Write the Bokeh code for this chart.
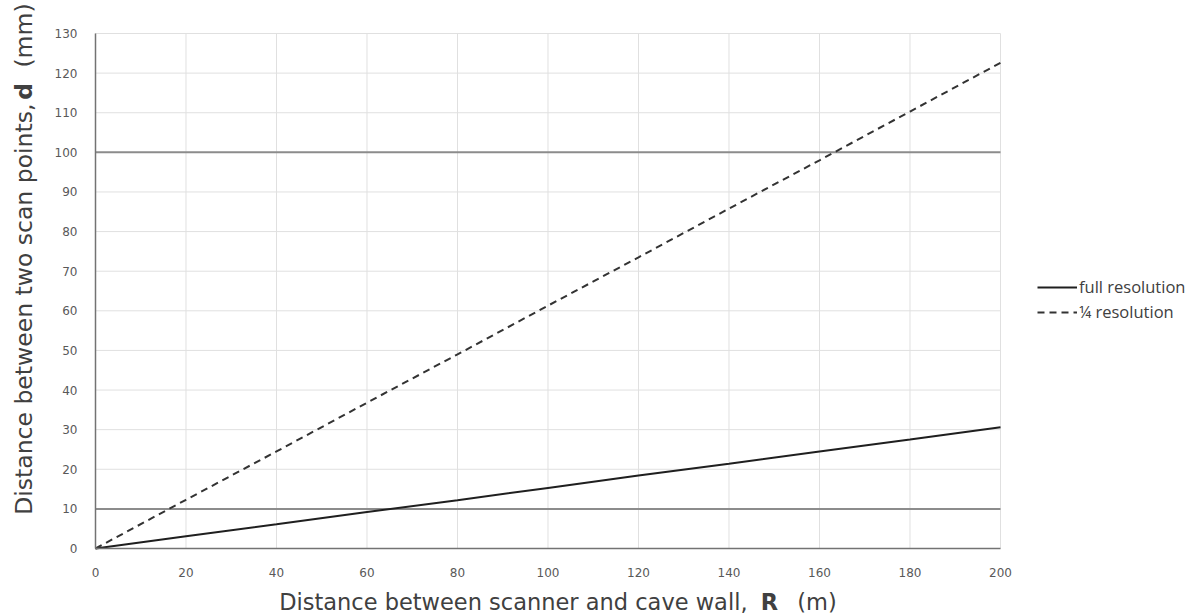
from bokeh.plotting import figure
from bokeh.models import Label, Legend, LegendItem, FixedTicker, Range1d, LinearAxis
from bokeh.embed import file_html
from bokeh.resources import INLINE
import math

R_m = [0, 20, 40, 60, 80, 100, 120, 140, 160, 180, 200]
d_full = [0, 3.1, 6.1, 9.2, 12.2, 15.3, 18.4, 21.4, 24.5, 27.5, 30.6]
d_quarter = [0, 12.3, 24.5, 36.8, 49.0, 61.3, 73.5, 85.8, 98.0, 110.3, 122.6]
ref_levels = [10, 100]
x_ticks = list(range(0, 201, 20))
y_ticks = list(range(0, 131, 10))
X_MIN, X_MAX, Y_MIN, Y_MAX = 0, 200, 0, 130

W, H = 1198, 614
# the frame spans the whole canvas; the plot region (0..200, 0..130) sits inside it
p = figure(width=W, height=H, output_backend="svg", toolbar_location=None,
           x_range=Range1d(-20.994, 243.757), y_range=Range1d(-16.660, 138.330),
           x_axis_location=None, y_axis_location=None,
           min_border=0, min_border_left=0, min_border_right=0,
           min_border_top=0, min_border_bottom=0)
p.outline_line_color = None
p.xgrid.visible = False
p.ygrid.visible = False

# grid lines
grid_col = "#e0e0e0"
p.segment(x0=x_ticks, y0=[Y_MIN] * len(x_ticks), x1=x_ticks, y1=[Y_MAX] * len(x_ticks),
          line_color=grid_col, line_width=1)
p.segment(x0=[X_MIN] * len(y_ticks), y0=y_ticks, x1=[X_MAX] * len(y_ticks), y1=y_ticks,
          line_color=grid_col, line_width=1)
# reference lines
p.segment(x0=[X_MIN] * len(ref_levels), y0=ref_levels, x1=[X_MAX] * len(ref_levels), y1=ref_levels,
          line_color="#8c8c8c", line_width=2)

xa = LinearAxis(fixed_location=0, bounds=(X_MIN, X_MAX), ticker=FixedTicker(ticks=x_ticks))
ya = LinearAxis(fixed_location=0, bounds=(Y_MIN, Y_MAX), ticker=FixedTicker(ticks=y_ticks))
for ax in (xa, ya):
    ax.major_tick_line_color = None
    ax.minor_tick_line_color = None
    ax.major_label_text_font = "DejaVu Sans"
    ax.major_label_text_font_size = "12px"
    ax.major_label_text_color = "#595959"
    ax.axis_line_color = "#737373"
    ax.axis_line_width = 1.5
xa.major_label_standoff = 13
ya.major_label_standoff = 12
p.add_layout(xa, "below")
p.add_layout(ya, "left")

r1 = p.line(R_m, d_full, line_color="#1f1f1f", line_width=2)
r2 = p.line(R_m, d_quarter, line_color="#333333", line_width=2, line_dash="7 5")

legend = Legend(items=[LegendItem(label="full resolution", renderers=[r1]),
                       LegendItem(label="¼ resolution", renderers=[r2])],
                location=(1037, 291), border_line_color=None, background_fill_alpha=0,
                label_text_font="Open Sans", label_text_font_size="16.5px",
                label_text_color="#404040", glyph_width=40, glyph_height=20,
                label_height=20, spacing=2, label_standoff=2, padding=0, margin=0)
p.add_layout(legend, "center")

fnt = "DejaVu Sans"
col = "#404040"

def lab(text, x, y, align, fs, bold=False, angle=0):
    p.add_layout(Label(x=x, y=y, angle=angle, text=text, text_align=align,
                       text_baseline="alphabetic",
                       text_font_style="bold" if bold else "normal",
                       text_font=fnt, text_font_size=fs, text_color=col))

xfs = "22.5px"
lab("Distance between scanner and cave wall,", 144.1, -13.6, "right", xfs)
lab("R", 147.0, -13.6, "left", xfs, bold=True)
lab("(m)", 155.1, -13.6, "left", xfs)

a = math.pi / 2
yfs = "23.5px"
lab("Distance between two scan points,", -15.9, 112.3, "right", yfs, angle=a)
lab("d", -15.9, 113.3, "left", yfs, bold=True, angle=a)
lab("(mm)", -15.9, 121.4, "left", yfs, angle=a)

open("out.html", "w").write(file_html(p, INLINE))
